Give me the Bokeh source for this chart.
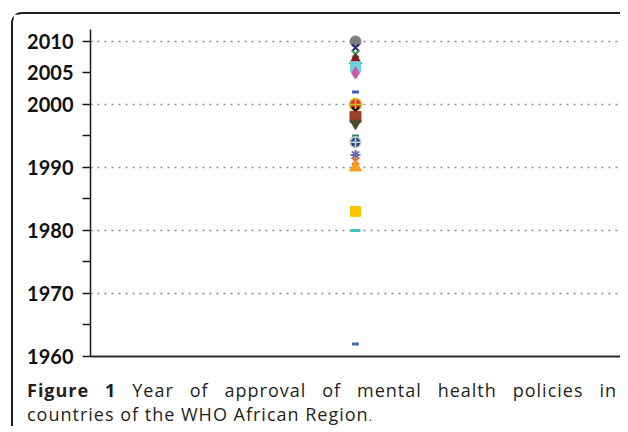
from bokeh.plotting import figure
from bokeh.models import ColumnDataSource, Range1d, FixedTicker, Div
from bokeh.layouts import column
from bokeh.embed import file_html
from bokeh.resources import INLINE

# ---- data ----
years = [2010, 2009, 2008, 2007, 2006, 2005, 2002, 2000, 1999, 1998,
         1997, 1995, 1994, 1992, 1991, 1990, 1983, 1980, 1962]
group = [1] * len(years)
y_label_ticks = [1960, 1970, 1980, 1990, 2000, 2005, 2010]
y_minor_ticks = [1965, 1975, 1985, 1995]
grid_years = [1970, 1980, 1990, 2000, 2010]
caption_bold = "Figure 1"
caption_line1 = "Year of approval of mental health policies in"
caption_line2 = "countries of the WHO African Region"

# ---- styles (per point) ----
markers = ["circle", "x", "x", "triangle", "square", "diamond", "dash",
           "circle_cross", "x", "square", "inverted_triangle", "dash",
           "circle_cross", "asterisk", "x", "triangle", "square", "dash", "dash"]
fills = ["#7f7f7f", "#2b2b8c", "#2e9b50", "#8b1a1a", "#70cfe0", "#c45cae",
         "#3f5fb0", "#e53030", "#111111", "#9c3e2a", "#4b4b2a", "#2e8b57",
         "#2f4a78", "#6a6ab0", "#f07030", "#f5a020", "#ffc600", "#40c0c0", "#4a6ab5"]
lines = ["#7f7f7f", "#2b2b8c", "#2e9b50", "#8b1a1a", "#70cfe0", "#c45cae",
         "#3f5fb0", "#d0c020", "#111111", "#9c3e2a", "#4b4b2a", "#2e8b57",
         "#c8d0e0", "#6a6ab0", "#f07030", "#f5a020", "#ffc600", "#40c0c0", "#4a6ab5"]
sizes = [11, 10, 10, 12, 10, 12, 7, 12, 10, 11, 11, 7, 11, 10, 10, 12, 10, 10, 7]
lws = [1, 2, 2, 1, 1, 1, 3, 1.5, 2, 1, 1, 3, 1.5, 2, 2, 1, 1, 3, 3]

src = ColumnDataSource(dict(x=group, y=years, marker=markers, fill=fills,
                            line=lines, size=sizes, lw=lws))

p = figure(width=607, height=356, output_backend="svg", toolbar_location=None,
           x_range=Range1d(0, 2), y_range=Range1d(1960, 2011.9),
           min_border_left=77, min_border_right=0, min_border_top=15,
           min_border_bottom=14)
p.outline_line_color = None
p.background_fill_color = "white"
p.border_fill_color = "white"

p.scatter("x", "y", source=src, marker="marker", size="size",
          fill_color="fill", line_color="line", line_width="lw")

# axes
p.xaxis.ticker = FixedTicker(ticks=[])
p.xaxis.major_tick_line_color = None
p.xaxis.minor_tick_line_color = None
p.xaxis.axis_line_color = "#2a2a2a"
p.xaxis.axis_line_width = 2
p.xaxis.major_label_standoff = 0

p.yaxis.ticker = FixedTicker(ticks=y_label_ticks, minor_ticks=y_minor_ticks)
p.yaxis.axis_line_color = "#1a1a1a"
p.yaxis.axis_line_width = 1.5
p.yaxis.major_tick_line_color = "#1a1a1a"
p.yaxis.major_tick_line_width = 1.5
p.yaxis.major_tick_out = 8
p.yaxis.major_tick_in = 0
p.yaxis.minor_tick_line_color = "#1a1a1a"
p.yaxis.minor_tick_line_width = 1.5
p.yaxis.minor_tick_out = 8
p.yaxis.minor_tick_in = 0
p.yaxis.major_label_standoff = 9
p.yaxis.major_label_text_font = "Lato"
p.yaxis.major_label_text_font_style = "bold"
p.yaxis.major_label_text_font_size = "20px"
p.yaxis.major_label_text_color = "#111111"

p.xgrid.visible = False
p.ygrid.ticker = FixedTicker(ticks=grid_years)
p.ygrid.grid_line_color = "#8a8a8a"
p.ygrid.grid_line_dash = "2 5"
p.ygrid.grid_line_width = 1.5

base = ("display:block; width:590px; font-family:'Open Sans'; font-size:18px; "
        "letter-spacing:1px; line-height:24px; color:#231f20; white-space:normal;")
caption = Div(
    text=(f'<div style="{base} text-align:justify; text-align-last:justify;">'
          f'<b>{caption_bold}</b> {caption_line1}</div>'
          f'<div style="{base} text-align:left;">{caption_line2}'
          f'<span style="font-size:12px">.</span></div>'),
    width=590, height=48, margin=(8, 0, 0, 14),
    styles={"width": "590px"})

layout = column(p, caption, spacing=0,
                styles={"margin-left": "11px", "margin-top": "12px",
                        "border-top": "2px solid #1e1e1e",
                        "border-left": "2px solid #1e1e1e",
                        "border-top-left-radius": "11px"})

open("out.html", "w").write(file_html(layout, INLINE))
